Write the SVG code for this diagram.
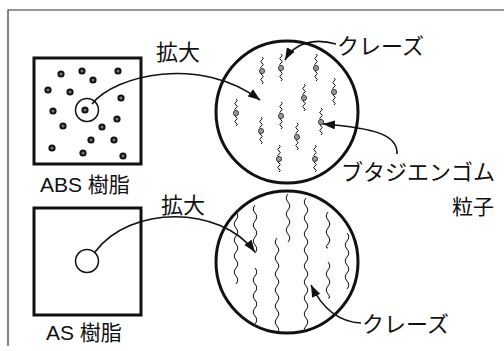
<svg xmlns="http://www.w3.org/2000/svg" xmlns:xlink="http://www.w3.org/1999/xlink" width="504" height="351" viewBox="0 0 504 351">
  <style>
    .lbl { font-family: "Liberation Sans", "Noto Sans CJK JP", sans-serif; font-size: 21px; fill: #111; }
    .big { font-size: 22px; }
    .frame { fill: none; stroke: #333; stroke-width: 1.2; }
    .box { fill: #fff; stroke: #111; stroke-width: 3; }
    .lens { fill: #fff; stroke: #111; stroke-width: 3; }
    .spot { fill: none; stroke: #111; stroke-width: 1.5; }
    .grain { fill: #777; stroke: #111; stroke-width: 2; }
    .wave { fill: none; stroke: #111; stroke-width: 1; }
    .link { fill: none; stroke: #111; stroke-width: 1.6; }
    .particle { fill: #999; stroke: #333; stroke-width: 0.9; }
  </style>
  <defs>
    <marker id="head" markerUnits="userSpaceOnUse" markerWidth="13" markerHeight="10" refX="12" refY="4.5" orient="auto">
      <path d="M0,0 L12,4.5 L0,9 Z" fill="#111"/>
    </marker>
    <!-- short craze with a rubber particle in the middle -->
    <g id="craze">
      <path class="wave" d="M0,-14 q2.5,1.5 0,3 t0,3 t0,3 t0,3 t0,3 t0,3 t0,3 t0,3 t0,3"/>
      <circle class="particle" cx="0" cy="0" r="2.6"/>
    </g>
    <clipPath id="lensClip">
      <circle cx="287" cy="262" r="70"/>
    </clipPath>
  </defs>

  <!-- outer frame (top and left edges) -->
  <path class="frame" d="M504,10 H8 V346"/>

  <!-- ABS resin block -->
  <g id="abs-block">
    <rect class="box" x="34" y="58" width="107" height="106"/>
    <g>
      <circle class="grain" cx="61" cy="74" r="2.6"/>
      <circle class="grain" cx="82" cy="71" r="2.6"/>
      <circle class="grain" cx="93" cy="80" r="2.6"/>
      <circle class="grain" cx="118" cy="71" r="2.6"/>
      <circle class="grain" cx="48" cy="90" r="2.6"/>
      <circle class="grain" cx="70" cy="92" r="2.6"/>
      <circle class="grain" cx="121" cy="98" r="2.6"/>
      <circle class="grain" cx="53" cy="111" r="2.6"/>
      <circle class="grain" cx="85" cy="110" r="2.6"/>
      <circle class="grain" cx="63" cy="126" r="2.6"/>
      <circle class="grain" cx="117" cy="119" r="2.6"/>
      <circle class="grain" cx="102" cy="127" r="2.6"/>
      <circle class="grain" cx="91" cy="140" r="2.6"/>
      <circle class="grain" cx="114" cy="140" r="2.6"/>
      <circle class="grain" cx="52" cy="148" r="2.6"/>
      <circle class="grain" cx="83" cy="153" r="2.6"/>
      <circle class="grain" cx="123" cy="156" r="2.6"/>
    </g>
    <circle class="spot" cx="87" cy="110" r="11.5"/>
    <text class="lbl" x="40" y="192">ABS 樹脂</text>
  </g>

  <!-- magnified ABS: short crazes around rubber particles -->
  <g id="abs-lens">
    <circle class="lens" cx="287" cy="112" r="71"/>
    <use xlink:href="#craze" x="262" y="71"/>
    <use xlink:href="#craze" x="281" y="68"/>
    <use xlink:href="#craze" x="316" y="68"/>
    <use xlink:href="#craze" x="334" y="92"/>
    <use xlink:href="#craze" x="304" y="98"/>
    <use xlink:href="#craze" x="236" y="113"/>
    <use xlink:href="#craze" x="281" y="116"/>
    <use xlink:href="#craze" x="261" y="131"/>
    <use xlink:href="#craze" x="321" y="122"/>
    <use xlink:href="#craze" x="297" y="137"/>
    <use xlink:href="#craze" x="279" y="159"/>
    <use xlink:href="#craze" x="315" y="159"/>
  </g>

  <!-- AS resin block -->
  <g id="as-block">
    <rect class="box" x="34" y="208" width="107" height="107"/>
    <circle class="spot" cx="87" cy="261" r="11.5"/>
    <text class="lbl" x="46" y="340">AS 樹脂</text>
  </g>

  <!-- magnified AS: long crazes -->
  <g id="as-lens">
    <circle class="lens" cx="287" cy="262" r="71"/>
    <g clip-path="url(#lensClip)">
      <path class="wave" d="M236,212 q3.5,4 0,8 t0,8 t0,8 t0,8 t0,8 t0,8 t0,8 t0,8 t0,8"/>
      <path class="wave" d="M255,205 q-3.5,4 0,8 t0,8 t0,8 t0,8 t0,8 t0,8"/>
      <path class="wave" d="M255,268 q3.5,4 0,8 t0,8 t0,8 t0,8 t0,8 t0,8 t0,8"/>
      <path class="wave" d="M277,238 q-3.5,4 0,8 t0,8 t0,8 t0,8 t0,8 t0,8 t0,8 t0,8 t0,8 t0,8 t0,8 t0,8"/>
      <path class="wave" d="M288,194 q-3.5,4 0,8 t0,8 t0,8 t0,8 t0,8 t0,8"/>
      <path class="wave" d="M306,198 q-3.5,4 0,8 t0,8 t0,8 t0,8 t0,8 t0,8 t0,8 t0,8 t0,8 t0,8 t0,8 t0,8 t0,8 t0,8 t0,8 t0,8 t0,8"/>
      <path class="wave" d="M328,212 q-3.5,4 0,8 t0,8 t0,8 t0,8 t0,4"/>
      <path class="wave" d="M328,262 q3.5,4 0,8 t0,8 t0,8 t0,8 t0,4"/>
      <path class="wave" d="M347,233 q3.5,4 0,8 t0,8 t0,8 t0,8 t0,8 t0,8 t0,8"/>
    </g>
  </g>

  <!-- labels -->
  <g id="labels">
    <text class="lbl big" x="156" y="60">拡大</text>
    <text class="lbl big" x="161" y="213">拡大</text>
    <text class="lbl big" x="337" y="54">クレーズ</text>
    <text class="lbl big" x="341" y="180">ブタジエンゴム</text>
    <text class="lbl" x="452" y="214">粒子</text>
    <text class="lbl big" x="362" y="332">クレーズ</text>
  </g>

  <!-- connectors -->
  <g id="connectors">
    <path class="link" d="M92,104 C115,75 200,55 260,100" marker-end="url(#head)"/>
    <path class="link" d="M95,252 C130,205 220,205 255,252" marker-end="url(#head)"/>
    <path class="link" d="M336,44 C315,38 295,42 285,60" marker-end="url(#head)"/>
    <path class="link" d="M397,154 C398,135 375,128 323,124" marker-end="url(#head)"/>
    <path class="link" d="M361,323 C340,322 323,310 311,285" marker-end="url(#head)"/>
  </g>
</svg>
